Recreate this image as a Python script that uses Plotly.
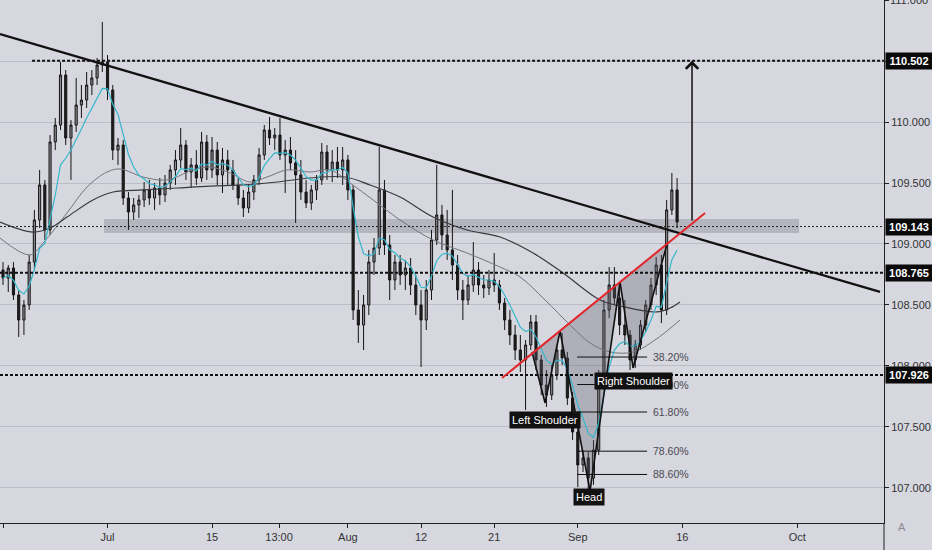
import numpy as np
import pandas as pd
import plotly.graph_objects as go

# ---------------- data (12h bars, x = trading-day index, 0 = Jun 17) ----------------
opens = [108.787,108.721,108.803,108.582,108.377,108.500,108.852,109.197,109.484,109.115,
109.836,109.975,110.385,109.869,109.975,110.139,110.180,110.303,110.361,110.467,
110.492,110.262,109.770,109.811,109.377,109.262,109.320,109.361,109.443,109.377,
109.459,109.402,109.500,109.607,109.689,109.811,109.590,109.648,109.541,109.836,
109.607,109.770,109.566,109.689,109.607,109.484,109.377,109.295,109.426,109.525,
109.730,109.934,109.869,109.893,109.730,109.770,109.664,109.566,109.426,109.336,
109.443,109.525,109.754,109.607,109.672,109.607,109.689,109.443,108.459,108.336,
108.500,108.852,108.967,109.443,108.992,108.705,108.852,108.746,108.803,108.664,
108.500,108.377,108.623,109.033,109.238,109.074,108.951,108.828,108.623,108.541,
108.664,108.787,108.664,108.639,108.705,108.664,108.516,108.377,108.254,108.131,
108.049,108.172,108.361,108.049,107.844,107.762,107.926,108.131,108.066,107.738,
107.459,107.189,107.246,107.082,107.311,107.885,108.459,108.664,108.557,108.336,
108.254,108.049,108.172,108.336,108.500,108.664,108.828,108.459,109.279,109.443]
highs = [108.852,108.828,108.852,108.623,108.541,108.910,109.279,109.607,109.525,109.893,
110.033,110.492,110.426,110.016,110.361,110.303,110.410,110.426,110.525,110.820,
110.549,110.303,109.869,109.852,109.426,109.377,109.402,109.508,109.525,109.500,
109.541,109.566,109.648,109.770,109.951,109.852,109.705,109.770,109.918,109.893,
109.877,109.836,109.787,109.770,109.689,109.541,109.443,109.484,109.566,109.787,
109.975,110.041,109.951,110.033,109.852,109.877,109.770,109.689,109.525,109.484,
109.566,109.828,109.811,109.770,109.795,109.795,109.730,109.484,108.623,108.582,
108.951,109.049,109.795,109.525,109.074,108.910,108.910,108.869,108.885,108.746,
108.623,108.705,109.115,109.648,109.320,109.279,109.443,108.910,108.705,108.746,
109.016,108.852,108.746,108.787,108.926,108.705,108.557,108.459,108.336,108.254,
108.213,108.418,108.418,108.090,107.967,108.008,108.172,108.270,108.115,107.787,
107.516,107.311,107.295,107.393,107.967,108.541,108.811,108.811,108.664,108.541,
108.295,108.213,108.377,108.541,108.721,108.893,108.910,109.361,109.582,109.541]
lows = [108.664,108.607,108.541,108.238,108.254,108.459,108.787,109.131,109.033,109.074,
109.770,109.934,109.811,109.525,109.918,110.033,110.115,110.221,110.303,110.410,
110.180,109.689,109.648,109.320,109.115,109.197,109.213,109.303,109.320,109.279,
109.320,109.344,109.443,109.484,109.623,109.525,109.459,109.484,109.508,109.525,
109.541,109.484,109.418,109.484,109.443,109.320,109.221,109.254,109.361,109.484,
109.689,109.811,109.770,109.689,109.418,109.607,109.172,109.361,109.295,109.279,
109.361,109.484,109.525,109.508,109.541,109.484,109.361,108.377,108.189,108.131,
108.418,108.746,108.910,108.910,108.541,108.623,108.664,108.623,108.582,108.418,
107.992,108.295,108.541,108.992,108.951,108.869,108.705,108.541,108.377,108.500,
108.607,108.582,108.557,108.582,108.607,108.459,108.295,108.172,108.049,107.951,
107.639,108.131,107.967,107.762,107.664,107.721,107.885,108.008,107.680,107.393,
107.008,107.131,106.959,107.025,107.270,107.803,108.393,108.500,108.254,108.172,
107.967,107.984,108.131,108.279,108.459,108.582,108.352,108.418,109.238,109.131]
closes = [108.721,108.803,108.582,108.377,108.500,108.852,109.197,109.484,109.115,109.836,
109.975,110.385,109.869,109.975,110.139,110.180,110.303,110.361,110.467,110.492,
110.262,109.770,109.811,109.377,109.262,109.320,109.361,109.443,109.377,109.459,
109.402,109.500,109.607,109.689,109.811,109.590,109.648,109.541,109.836,109.607,
109.770,109.566,109.689,109.607,109.484,109.377,109.295,109.426,109.525,109.730,
109.934,109.869,109.893,109.730,109.770,109.664,109.566,109.426,109.336,109.443,
109.525,109.754,109.607,109.672,109.607,109.689,109.443,108.459,108.336,108.500,
108.852,108.967,109.443,108.992,108.705,108.852,108.746,108.803,108.664,108.500,
108.377,108.623,109.033,109.238,109.074,108.951,108.828,108.623,108.541,108.664,
108.787,108.664,108.639,108.705,108.664,108.516,108.377,108.254,108.131,108.049,
108.172,108.361,108.049,107.844,107.762,107.926,108.131,108.066,107.738,107.459,
107.189,107.246,107.082,107.311,107.885,108.459,108.664,108.557,108.336,108.254,
108.049,108.172,108.336,108.500,108.664,108.828,108.459,109.279,109.443,109.180]
bar_pos = [i * 0.5 for i in range(len(closes))]

# slow moving averages (day, price)
ma_slow_day = [-0.29,2.87,4.50,6.12,8.61,10.53,13.40,16.65,19.81,22.97,26.22,29.38,32.73,35.12,
               37.99,41.15,44.40,47.56,50.72,53.59,57.13,59.04,62.58,63.83,64.78]
ma_slow_val = [109.180,109.098,109.131,109.221,109.361,109.426,109.443,109.459,109.475,109.484,
               109.508,109.541,109.549,109.484,109.385,109.221,109.115,109.057,108.926,108.762,
               108.541,108.492,108.443,108.475,108.525]
ma_mid_day = [-0.29,2.58,3.83,6.12,8.04,9.95,11.20,13.40,15.69,18.18,19.81,21.72,23.64,25.26,
              27.18,29.38,31.29,33.21,35.41,37.99,41.15,44.40,47.56,49.47,51.87,54.26,56.17,
              58.09,60.29,62.39,64.78]
ma_mid_val = [109.049,108.910,109.008,109.254,109.467,109.590,109.615,109.549,109.525,109.607,
              109.631,109.582,109.508,109.549,109.607,109.590,109.607,109.500,109.361,109.197,
              109.033,108.926,108.811,108.730,108.541,108.336,108.189,108.115,108.115,108.213,
              108.377]

# x-axis ticks
tick_days = [0, 10, 20, 26.41, 33, 40, 47, 55, 65, 76]
tick_text = ["17", "Jul", "15", "13:00", "Aug", "12", "21", "Sep", "16", "Oct"]
price_ticks = [107.0, 107.5, 108.0, 108.5, 109.0, 109.5, 110.0, 110.5, 111.0]

# drawn levels
levels_thick = [110.502, 108.765, 107.926]
level_thin = 109.143
level_labels = [110.502, 109.143, 108.765, 107.926]
band_price = (109.090, 109.205)
band_days = (9.67, 76.17)
trend_black = ([-0.29, 83.92], [110.721, 108.607])
trend_red = ([47.75, 67.18], [107.902, 109.254])
target_arrow = (65.93, 109.180, 110.502)

# head and shoulders points (day, price)
hs_day = [50.62, 51.87, 53.30, 56.17, 59.04, 60.29, 63.54]
hs_val = [108.115, 107.697, 108.287, 106.975, 108.689, 107.984, 109.000]
hs_labels = [("Left Shoulder", 51.87, 107.557), ("Head", 56.08, 106.926), ("Right Shoulder", 60.29, 107.877)]

# fibonacci retracement
fib_p0, fib_p100 = 108.803, 106.893
fib_levels = [0.382, 0.5, 0.618, 0.786, 0.886]
fib_days = (54.93, 61.63)

X_RANGE = [-0.29, 84.3]
Y_RANGE = [106.713, 111.0]
BG = "#d6d7df"
FONT = "Liberation Sans, Arial, sans-serif"

fig = go.Figure()

# H&S fills
for a, b, c in [(0, 1, 2), (2, 3, 4), (4, 5, 6)]:
    fig.add_trace(go.Scatter(
        x=[hs_day[a], hs_day[b], hs_day[c], hs_day[a]],
        y=[hs_val[a], hs_val[b], hs_val[c], hs_val[a]],
        mode="lines", fill="toself", fillcolor="rgba(95,95,105,0.33)",
        line=dict(width=0), hoverinfo="skip", showlegend=False))

# moving averages
fig.add_trace(go.Scatter(x=ma_mid_day, y=ma_mid_val, mode="lines", line=dict(color="#74747c", width=1, shape="spline"),
                         hoverinfo="skip", showlegend=False))
fig.add_trace(go.Scatter(x=ma_slow_day, y=ma_slow_val, mode="lines", line=dict(color="#3a3a40", width=1.2, shape="spline"),
                         hoverinfo="skip", showlegend=False))
ema_fast = pd.Series(closes).ewm(span=7, adjust=False).mean()
fig.add_trace(go.Scatter(x=bar_pos, y=ema_fast, mode="lines", line=dict(color="#35b6cc", width=1.2),
                         hoverinfo="skip", showlegend=False))

# candles
fig.add_trace(go.Candlestick(
    x=bar_pos, open=opens, high=highs, low=lows, close=closes,
    increasing=dict(line=dict(color="#151515", width=1), fillcolor="#8c8c92"),
    decreasing=dict(line=dict(color="#151515", width=1), fillcolor="#1e1e1e"),
    showlegend=False, hoverinfo="skip"))

# H&S outline
fig.add_trace(go.Scatter(x=hs_day, y=hs_val, mode="lines", line=dict(color="#111", width=1.6),
                         hoverinfo="skip", showlegend=False))

shapes = []
shapes.append(dict(type="rect", xref="x", yref="y", x0=band_days[0], x1=band_days[1],
                   y0=band_price[0], y1=band_price[1], fillcolor="rgba(140,140,150,0.45)",
                   line=dict(width=0), layer="below"))
for i, lv in enumerate(levels_thick):
    x0 = 2.78 if i == 0 else X_RANGE[0]
    shapes.append(dict(type="line", xref="x", yref="y", x0=x0, x1=X_RANGE[1], y0=lv, y1=lv,
                       line=dict(color="#111", width=2, dash="3px,2px")))
shapes.append(dict(type="line", xref="x", yref="y", x0=X_RANGE[0], x1=X_RANGE[1], y0=level_thin, y1=level_thin,
                   line=dict(color="#222", width=1, dash="2px,2px")))
shapes.append(dict(type="line", xref="x", yref="y", x0=trend_black[0][0], x1=trend_black[0][1],
                   y0=trend_black[1][0], y1=trend_black[1][1], line=dict(color="#111", width=2.3)))
shapes.append(dict(type="line", xref="x", yref="y", x0=trend_red[0][0], x1=trend_red[0][1],
                   y0=trend_red[1][0], y1=trend_red[1][1], line=dict(color="#e3262b", width=2)))
for lv in fib_levels:
    p = fib_p0 - lv * (fib_p0 - fib_p100)
    shapes.append(dict(type="line", xref="x", yref="y", x0=fib_days[0], x1=fib_days[1], y0=p, y1=p,
                       line=dict(color="#111", width=1)))
# right axis line continuing below plot
shapes.append(dict(type="line", xref="paper", yref="paper", x0=1, x1=1, y0=-0.06, y1=0,
                   line=dict(color="#222", width=1)))

annotations = []
# target arrow
annotations.append(dict(x=target_arrow[0], y=target_arrow[2], ax=target_arrow[0], ay=target_arrow[1],
                        xref="x", yref="y", axref="x", ayref="y", text="", showarrow=True,
                        arrowhead=4, arrowsize=1.6, arrowwidth=1.5, arrowcolor="#111"))
# fib labels
for lv in fib_levels:
    p = fib_p0 - lv * (fib_p0 - fib_p100)
    annotations.append(dict(x=fib_days[1] + 0.35, y=p, xref="x", yref="y", text=f"{lv*100:.2f}%",
                            showarrow=False, xanchor="left", font=dict(family=FONT, size=10.5, color="#4a4a50")))
# pattern labels
for txt, dx, py in hs_labels:
    annotations.append(dict(x=dx, y=py, xref="x", yref="y", text=txt, showarrow=False,
                            bgcolor="#111", borderpad=2, font=dict(family=FONT, size=11, color="white")))
# top price tick label (partly outside the view, as in the reference)
annotations.append(dict(x=1, y=price_ticks[-1], xref="paper", yref="y", text=f"{price_ticks[-1]:.3f}",
                        showarrow=False, xanchor="left", xshift=4, yanchor="middle",
                        font=dict(family=FONT, size=11, color="#333")))
# price labels on axis
for lv in level_labels:
    annotations.append(dict(x=1, y=lv, xref="paper", yref="y", text=f"<b>{lv:.3f}</b>", showarrow=False,
                            xanchor="left", xshift=1, bgcolor="#0a0a0a", borderpad=2, width=42,
                            font=dict(family=FONT, size=11, color="white")))
annotations.append(dict(x=1.0266, y=-0.023, xref="paper", yref="paper", text="A", showarrow=False,
                        font=dict(family=FONT, size=11, color="#8a8a92")))

fig.update_layout(
    width=932, height=550,
    margin=dict(l=0, r=48, t=0, b=27),
    paper_bgcolor=BG, plot_bgcolor=BG,
    showlegend=False, boxgap=0.42,
    shapes=shapes, annotations=annotations,
    xaxis=dict(range=X_RANGE, rangeslider=dict(visible=False), showgrid=False, zeroline=False,
               tickvals=tick_days, ticktext=tick_text, ticks="outside", ticklen=4, tickcolor="#222",
               showline=True, linecolor="#222", linewidth=1,
               tickfont=dict(family=FONT, size=11, color="#333")),
    yaxis=dict(range=Y_RANGE, side="right", showgrid=True, gridcolor="#bcbdc6", gridwidth=1, zeroline=False,
               tickvals=price_ticks, ticktext=[f"{v:.3f}" for v in price_ticks], ticks="outside", ticklen=4,
               tickcolor="#222", showline=True, linecolor="#222", linewidth=1,
               tickfont=dict(family=FONT, size=11, color="#333")),
)

fig.write_html("out.html", config={"displayModeBar": False},
               post_script="document.body.style.margin='0';document.body.style.background='" + BG + "';")
